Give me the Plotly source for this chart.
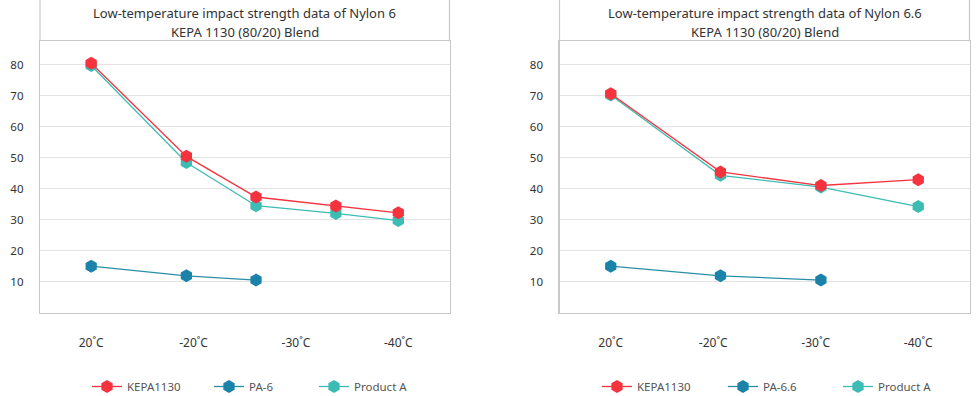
import plotly.graph_objects as go

# ---------------- data ----------------
categories = ["20˚C", "-20˚C", "-30˚C", "-40˚C"]
cat_pos = [0, 1, 2, 3]

# Left chart (Nylon 6)
left_title = ["Low-temperature impact strength data of Nylon 6", "KEPA 1130 (80/20) Blend"]
left_x = [0, 0.93, 1.61, 2.39, 3.0]
left_kepa = [80.5, 50.5, 37.4, 34.5, 32.3]
left_prodA = [79.8, 48.5, 34.6, 32.1, 29.8]
left_pa_x = [0, 0.93, 1.61]
left_pa = [15.1, 12.0, 10.6]

# Right chart (Nylon 6.6)
right_title = ["Low-temperature impact strength data of Nylon 6.6", "KEPA 1130 (80/20) Blend"]
right_x = [0, 1.07, 2.05, 3.0]
right_kepa = [70.7, 45.5, 41.1, 43.0]
right_prodA = [70.3, 44.4, 40.6, 34.3]
right_pa_x = [0, 1.07, 2.05]
right_pa = [15.1, 12.0, 10.6]

series_names_left = ["KEPA1130", "PA-6", "Product A"]
series_names_right = ["KEPA1130", "PA-6.6", "Product A"]
colors = ["#f5333f", "#1b83aa", "#3cbcb3"]
line_colors = ["#f5333f", "#2a8fa6", "#3cbcb3"]

W, H = 980, 401   # page window is 396 tall; the extra rows fall below the fold
FONT = "Noto Sans"

def px(x):
    return x / W

def py(y):
    return 1 - y / H

fig = go.Figure()

def add_series(x, y, i, name, xa, ya, leg):
    fig.add_trace(go.Scatter(
        x=x, y=y, name=name, mode="lines+markers",
        line=dict(color=line_colors[i], width=1.3),
        marker=dict(symbol="hexagon", size=13, color=colors[i], line=dict(width=0)),
        xaxis=xa, yaxis=ya, legend=leg, showlegend=True,
    ))

add_series(left_pa_x, left_pa, 1, series_names_left[1], "x", "y", "legend2")
add_series(left_x, left_prodA, 2, series_names_left[2], "x", "y", "legend3")
add_series(left_x, left_kepa, 0, series_names_left[0], "x", "y", "legend")
add_series(right_pa_x, right_pa, 1, series_names_right[1], "x2", "y2", "legend5")
add_series(right_x, right_prodA, 2, series_names_right[2], "x2", "y2", "legend6")
add_series(right_x, right_kepa, 0, series_names_right[0], "x2", "y2", "legend4")

# geometry
left_l, left_r = 40, 449.5
right_l, right_r = 559.5, 969.5
plot_top, plot_bot = 41.3, 313

ymax = 87.6
yax = dict(range=[0, ymax], tickvals=[10, 20, 30, 40, 50, 60, 70, 80],
           showgrid=True, gridcolor="#e3e3e3", gridwidth=1, zeroline=False,
           showline=True, linecolor="#c9c9c9", linewidth=1.2, mirror=True,
           ticks="", ticklabelstandoff=13, automargin=False,
           tickfont=dict(family=FONT, size=11.5, color="#333333"),
           domain=[py(plot_bot), py(plot_top)], fixedrange=True)
xax = dict(range=[-0.5, 3.5], tickvals=cat_pos, ticktext=categories,
           showgrid=False, zeroline=False, showline=True, linecolor="#c9c9c9",
           linewidth=1.2, mirror=True, ticks="", ticklabelstandoff=18, automargin=False,
           tickfont=dict(family=FONT, size=12, color="#333333"), fixedrange=True)

fig.update_layout(
    width=W, height=H, margin=dict(l=0, r=0, t=0, b=0),
    paper_bgcolor="white", plot_bgcolor="white",
    xaxis=dict(xax, domain=[px(left_l), px(left_r)], anchor="y"),
    yaxis=dict(yax, anchor="x"),
    xaxis2=dict(xax, domain=[px(right_l), px(right_r)], anchor="y2"),
    yaxis2=dict(yax, anchor="x2"),
)

for l, r, title in [(left_l, left_r, left_title), (right_l, right_r, right_title)]:
    for xx in (l, r):
        fig.add_shape(type="line", xref="paper", yref="paper",
                      x0=px(xx), x1=px(xx), y0=py(plot_top), y1=1.01,
                      line=dict(color="#c9c9c9", width=1.2))
    cx = (l + r) / 2
    fig.add_annotation(xref="paper", yref="paper", x=px(cx), y=py(12.5),
                       text=title[0], showarrow=False, xanchor="center", yanchor="middle",
                       font=dict(family=FONT, size=13, color="#333333"))
    fig.add_annotation(xref="paper", yref="paper", x=px(cx), y=py(31.5),
                       text=title[1], showarrow=False, xanchor="center", yanchor="middle",
                       font=dict(family=FONT, size=13, color="#333333"))

leg_centers = {"legend": 107, "legend2": 229, "legend3": 334,
               "legend4": 617, "legend5": 743, "legend6": 858}
for k, c in leg_centers.items():
    fig.update_layout({k: dict(x=px(c - 20), y=0, xanchor="left", yanchor="bottom",
                               orientation="h", bgcolor="rgba(0,0,0,0)", borderwidth=0,
                               font=dict(family=FONT, size=11.5, color="#555555"),
                               itemclick=False, itemdoubleclick=False)})

fig.write_html("out.html", config={"displayModeBar": False, "staticPlot": True},
               post_script="document.body.style.margin='0';document.body.style.overflow='hidden';")
